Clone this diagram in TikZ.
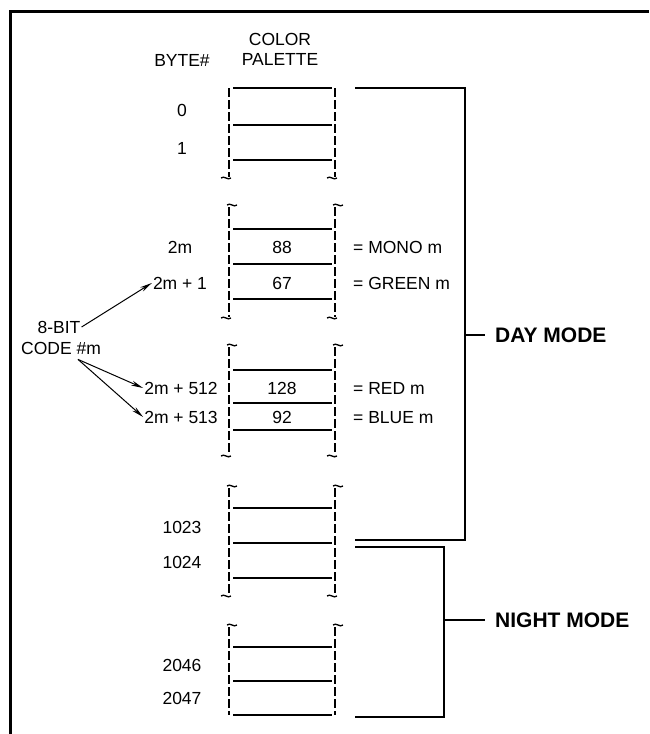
\documentclass[tikz,border=0pt]{standalone}
\usepackage{fontspec}
\setmainfont{Liberation Sans}
\usetikzlibrary{arrows.meta,positioning,calc}
\tikzset{
  lbl/.style={font=\fontsize{17.5}{20}\selectfont, inner sep=1pt, align=center},
  modelbl/.style={font=\fontsize{21}{24}\selectfont\bfseries, anchor=west, inner xsep=10pt},
  slotline/.style={line width=2.2pt},
  sideline/.style={line width=1.5pt, dash pattern=on 9pt off 3pt},
  brack/.style={line width=2pt},
  codearrow/.style={-{Stealth[length=12pt,width=5pt]}, line width=1pt},
}
% little wavy break mark at the end of a dashed side
\newcommand{\squig}[2]{%
  \draw[line width=1.3pt] (#1-5,#2) .. controls (#1-2,#2-3) and (#1+2,#2+3) .. (#1+5,#2);}

\begin{document}
\begin{tikzpicture}[x=1pt,y=-1pt]
  \useasboundingbox (0,0) rectangle (649,734);

  % frame
  \draw[line width=3pt] (10,734) -- (10,11) -- (649,11);

  % headings
  \node[lbl] (byte) at (182,60) {BYTE\#};
  \node[lbl] (palette) at (280,49) {COLOR\\PALETTE};

  % palette groups: top, bottom, lines
  \foreach \t/\b/\la/\lb/\lc in {88/177/88/125/160, 207/317/229/264/299,
      347/455/370/403/430, 488/595/508/543/578, 627/715/647/681/715}{
    \draw[sideline] (229,\t) -- (229,\b);
    \draw[sideline] (335,\t) -- (335,\b);
    \foreach \y in {\la,\lb,\lc}
      \draw[slotline] (233,\y) -- (332,\y);
  }
  % break marks
  \foreach \y in {177,317,455,595}{
    \squig{226}{\y+1}
    \squig{332}{\y+1}
  }
  \foreach \y in {207,347,488,627}{
    \squig{232}{\y-2}
    \squig{338}{\y-2}
  }

  % byte numbers
  \node[lbl] (b0) at (182,110) {0};
  \node[lbl] (b1) at (182,148) {1};
  \node[lbl] (b2m) at (180,247) {2m};
  \node[lbl] (b2m1) at (180,283) {2m + 1};
  \node[lbl] (b512) at (181,388) {2m + 512};
  \node[lbl] (b513) at (181,417) {2m + 513};
  \node[lbl] (b1023) at (182,527) {1023};
  \node[lbl] (b1024) at (182,562) {1024};
  \node[lbl] (b2046) at (182,665) {2046};
  \node[lbl] (b2047) at (182,698) {2047};

  % palette contents
  \node[lbl] (v88) at (282,247) {88};
  \node[lbl] (v67) at (282,283) {67};
  \node[lbl] (v128) at (282,388) {128};
  \node[lbl] (v92) at (282,417) {92};
  \node[lbl, anchor=west] (mono) at (352,247) {= MONO m};
  \node[lbl, anchor=west] (green) at (352,283) {= GREEN m};
  \node[lbl, anchor=west] (red) at (352,388) {= RED m};
  \node[lbl, anchor=west] (blue) at (352,418) {= BLUE m};

  % 8-bit code
  \node[lbl] (bit) at (59,327) {8-BIT};
  \node[lbl] (code) at (61,348) {CODE \#m};
  \coordinate (fork) at ([xshift=17,yshift=-4]code.south);
  \draw[codearrow] (bit.east) -- (b2m1.west);
  \draw[codearrow] (fork) -- (b512.west);
  \draw[codearrow] (fork) -- (b513.west);

  % day mode
  \coordinate (daytop) at (355,88);
  \coordinate (daybot) at (355,540);
  \coordinate (dayv) at (465,335);
  \node[modelbl] (day) at (485,335) {DAY MODE};
  \draw[brack] (daytop) -| (dayv) |- (daybot);
  \draw[brack] (dayv) -- (day.west);

  % night mode
  \coordinate (nighttop) at (355,547);
  \coordinate (nightbot) at (355,717);
  \coordinate (nightv) at (444,620);
  \node[modelbl] (night) at (485,620) {NIGHT MODE};
  \draw[brack] (nighttop) -| (nightv) |- (nightbot);
  \draw[brack] (nightv) -- (night.west);
\end{tikzpicture}
\end{document}
